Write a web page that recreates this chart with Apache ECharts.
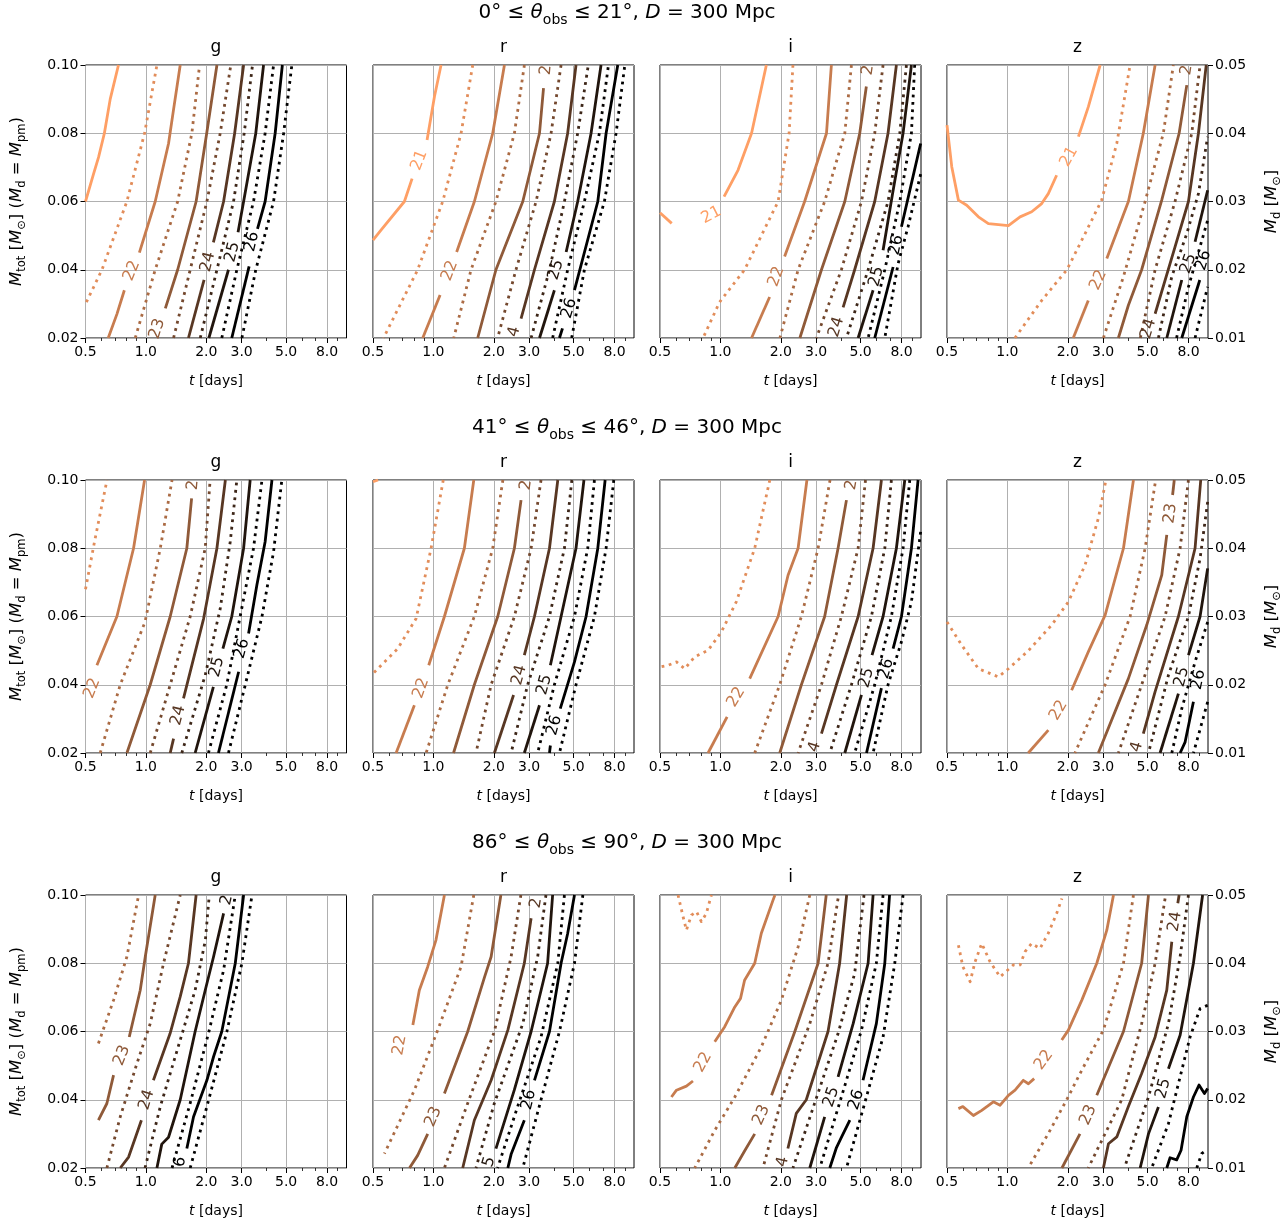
<!DOCTYPE html>
<html><head><meta charset="utf-8">
<script src="https://cdn.jsdelivr.net/npm/echarts@6/dist/echarts.min.js"></script>
<style>html,body{margin:0;padding:0;background:#fff}#c{width:1288px;height:1222px}</style>
</head><body><div id="c"></div>
<script>
// ---------------- data ----------------
const levels = [21, 21.5, 22, 22.5, 23, 23.5, 24, 24.5, 25, 25.5, 26, 26.5];
const bands = ['g', 'r', 'i', 'z'];
const thetaRanges = [[0, 21], [41, 46], [86, 90]];
const distanceMpc = 300;
const tTicks = [0.5, 1, 2, 3, 5, 8];
const tMinorTicks = [0.6, 0.7, 0.8, 0.9, 4, 6, 7, 9];
const mTotRange = [0.02, 0.10];
const mDRange = [0.01, 0.05];

// contour paths [t (days), M_tot] per level (index matches `levels`); null = absent / gap
const row1_g = [
 [[0.5,0.06],[0.548,0.068],[0.581,0.073],[0.621,0.08],[0.664,0.09],[0.73,0.1]],
 [[0.505,0.0305],[0.604,0.04],[0.804,0.06],[0.985,0.08],[1.135,0.1]],
 [[0.649,0.02],[0.717,0.027],[0.781,0.034],null,[0.928,0.045],[1.113,0.06],[1.297,0.077],[1.374,0.087],[1.483,0.1]],
 [[0.885,0.02],[1.113,0.04],[1.44,0.06],[1.695,0.08],[1.852,0.1]],
 [[1.25,0.0287],[1.44,0.04],[1.78,0.06],[2.01,0.08],[2.26,0.1]],
 [[1.374,0.02],[1.663,0.04],[2.014,0.06],[2.347,0.08],[2.65,0.1]],
 [[1.63,0.02],[1.95,0.037],null,[2.17,0.048],[2.44,0.06],[2.77,0.08],[3.07,0.1]],
 [[1.866,0.02],[2.26,0.04],[2.735,0.06],[3.09,0.08],[3.4,0.1]],
 [[2.06,0.02],[2.58,0.04],null,[2.88,0.051],[3.07,0.06],[3.53,0.08],[3.86,0.1]],
 [[2.39,0.02],[2.84,0.04],[3.44,0.06],[3.93,0.08],[4.33,0.1]],
 [[2.68,0.02],[3.27,0.041],null,[3.6,0.052],[3.93,0.06],[4.41,0.08],[4.79,0.1]],
 [[3.01,0.02],[3.53,0.04],[4.33,0.06],[4.86,0.08],[5.34,0.1]]
];
const row1_r = [
 [[1.092,0.1],[1.012,0.0907],[0.93,0.078],null,[0.783,0.0667],[0.717,0.06],[0.548,0.0516],[0.5,0.0487]],
 [[1.571,0.1],[1.374,0.08],[1.113,0.06],[0.835,0.04],[0.564,0.02]],
 [[2.26,0.1],[1.976,0.08],[1.601,0.06],[1.306,0.0452],null,[1.08,0.0326],[0.885,0.02]],
 [[2.842,0.1],[2.534,0.08],[2.05,0.06],[1.541,0.04],[1.263,0.02]],
 [[3.54,0.0932],[3.38,0.08],[2.79,0.06],[2.05,0.04],[1.663,0.02]],
 [[4.33,0.1],[3.86,0.08],[3.25,0.06],[2.58,0.04],[2.09,0.02]],
 [[2.735,0.0257],[3.19,0.04],[4.01,0.06],[4.67,0.08],[5.14,0.1]],
 [[3.07,0.02],[3.79,0.04],[4.5,0.06],[5.24,0.08],[5.92,0.1]],
 [[3.38,0.02],[4.01,0.034],null,[4.59,0.0452],[5.24,0.06],[6.11,0.08],[6.85,0.1]],
 [[3.93,0.02],[4.67,0.04],[5.66,0.06],[6.72,0.08],[7.46,0.1]],
 [[4.25,0.02],[4.4,0.0228],null,[5.05,0.034],[6.6,0.06],[7.26,0.08],[8.3,0.1]],
 [[4.89,0.02],[5.66,0.04],[7.12,0.06],[8.14,0.08],[9.0,0.1]]
];
const row1_i = [
 [[0.5,0.0567],[0.572,0.0536],null,[1.043,0.0614],[1.225,0.0692],[1.43,0.08],[1.695,0.1]],
 [[2.3,0.1],[2.2,0.08],[1.94,0.06],[1.32,0.04],[0.99,0.0305],[0.82,0.02]],
 [[3.575,0.1],[3.38,0.08],[2.63,0.06],[2.09,0.0439],null,[1.76,0.032],[1.43,0.02]],
 [[4.5,0.1],[4.17,0.08],[3.31,0.06],[2.44,0.04],[1.98,0.02]],
 [[5.34,0.0937],[4.95,0.08],[4.17,0.06],[3.19,0.04],[2.49,0.02]],
 [[6.47,0.1],[5.88,0.08],[5.05,0.06],[4.01,0.04],[3.01,0.02]],
 [[7.54,0.1],[6.85,0.08],[5.88,0.06],[4.67,0.04],[4.09,0.029]],
 [[8.46,0.1],[7.84,0.08],[6.85,0.06],[5.45,0.04],[4.25,0.02]],
 [[8.96,0.1],[8.14,0.08],[7.2,0.062],[6.47,0.0457],null,[5.77,0.034],[4.86,0.02]],
 [[9.3,0.1],[8.96,0.08],[7.84,0.06],[6.6,0.04],[5.45,0.02]],
 [[9.96,0.077],[8.96,0.0653],[7.99,0.0526],null,[7.26,0.0408],[5.88,0.02]],
 [[9.96,0.068],[8.62,0.0526],[7.69,0.0418],[6.6,0.02]]
];
const row1_z = [
 [[0.5,0.0824],[0.528,0.0702],[0.57,0.0604],[0.627,0.0589],[0.717,0.0555],[0.804,0.0535],[1.012,0.0529],[1.157,0.0555],[1.322,0.057],[1.483,0.0594],[1.6,0.0623],[1.76,0.0677],null,[2.26,0.079],[2.534,0.0878],[2.9,0.1]],
 [[1.09,0.02],[1.483,0.031],[1.98,0.04],[2.44,0.0506],[2.95,0.0604],[3.51,0.077],[4.09,0.1]],
 [[2.13,0.02],[2.53,0.031],null,[3.13,0.0433],[4.01,0.06],[4.76,0.08],[5.45,0.1]],
 [[3.01,0.02],[3.79,0.038],[4.86,0.06],[5.99,0.08],[6.72,0.1]],
 [[3.575,0.02],[4.01,0.0296],[4.67,0.04],[5.88,0.0604],[7.18,0.08],[7.84,0.0941]],
 [[4.6,0.02],[5.45,0.04],[6.85,0.06],[8.3,0.08],[9.13,0.1]],
 [[5.45,0.0271],[6.85,0.0467],[7.99,0.06],[8.96,0.08],[9.8,0.1]],
 [[5.66,0.02],[6.6,0.038],[7.84,0.0506],[8.96,0.0623],[9.96,0.079]],
 [[6.23,0.02],[7.4,0.037],null,[8.62,0.0482],[9.96,0.0633]],
 [[6.97,0.02],[7.99,0.035],[9.96,0.0545]],
 [[7.4,0.02],[9.1,0.037]],
 [[8.62,0.02],[9.96,0.035]]
];
const row2_g = [
 null,
 [[0.5,0.068],[0.555,0.082],[0.64,0.1]],
 [[0.985,0.1],[0.868,0.08],[0.717,0.06],[0.57,0.0457]],
 [[0.592,0.02],[0.745,0.04],[0.99,0.0584],[1.18,0.08],[1.35,0.1]],
 [[0.804,0.02],[1.051,0.04],[1.322,0.06],[1.6,0.08],[1.69,0.0946]],
 [[1.051,0.02],[1.322,0.04],[1.663,0.06],[1.976,0.08],[2.09,0.1]],
 [[1.322,0.02],[1.374,0.0242],null,[1.54,0.036],[1.94,0.0594],[2.26,0.08],[2.49,0.1]],
 [[1.51,0.02],[1.976,0.0428],[2.347,0.0623],[2.633,0.0819],[2.84,0.1]],
 [[1.76,0.02],[2.17,0.0394],null,[2.42,0.0506],[2.68,0.06],[3.07,0.08],[3.31,0.1]],
 [[2.05,0.02],[2.53,0.04],[2.95,0.06],[3.44,0.08],[3.79,0.1]],
 [[2.3,0.02],[2.9,0.0438],null,[3.25,0.055],[3.575,0.0692],[3.93,0.0819],[4.25,0.1]],
 [[2.58,0.02],[3.13,0.04],[3.79,0.06],[4.33,0.079],[4.76,0.1]]
];
const row2_r = [
 [[0.5,0.0995],[0.53,0.1]],
 [[1.12,0.1],[0.974,0.08],[0.82,0.0594],[0.664,0.0506],[0.5,0.0433]],
 [[1.59,0.1],[1.427,0.08],[1.135,0.06],[0.948,0.0457],null,[0.804,0.034],[0.652,0.02]],
 [[2.22,0.1],[1.976,0.08],[1.6,0.06],[1.18,0.04],[0.92,0.02]],
 [[2.735,0.0941],[2.534,0.08],[2.093,0.06],[1.6,0.04],[1.26,0.02]],
 [[3.44,0.1],[3.07,0.08],[2.534,0.06],[1.94,0.04],[1.63,0.02]],
 [[4.17,0.1],[3.79,0.08],[3.19,0.06],[2.84,0.0487],null,[2.51,0.037],[2.014,0.02]],
 [[4.9,0.1],[4.5,0.08],[3.79,0.06],[2.95,0.04],[2.44,0.02]],
 [[5.63,0.1],[5.14,0.08],[4.33,0.06],[3.83,0.0457],null,[3.38,0.034],[2.84,0.02]],
 [[6.35,0.1],[5.88,0.08],[5.05,0.06],[4.01,0.04],[3.31,0.02]],
 [[7.18,0.1],[6.6,0.08],[5.77,0.06],[5.05,0.0467],[4.29,0.033],null,[3.83,0.0222],[3.79,0.02]],
 [[7.93,0.1],[7.26,0.08],[6.35,0.06],[5.14,0.04],[4.25,0.02]]
];
const row2_i = [
 null,
 [[1.763,0.1],[1.483,0.08],[1.2,0.0643],[1.012,0.0555],[0.868,0.0501],[0.745,0.0482],[0.664,0.0447],[0.604,0.0467],[0.548,0.0457],[0.5,0.0452]],
 [[2.7,0.1],[2.44,0.08],[2.174,0.0721],[1.94,0.06],[1.4,0.0418],null,[1.08,0.0306],[0.868,0.02]],
 [[3.52,0.1],[3.07,0.08],[2.534,0.06],[1.976,0.04],[1.483,0.02]],
 [[4.25,0.0941],[3.86,0.08],[3.31,0.06],[2.534,0.04],[1.976,0.02]],
 [[5.29,0.1],[4.86,0.08],[4.01,0.06],[3.19,0.04],[2.44,0.02]],
 [[6.35,0.1],[5.77,0.08],[4.86,0.06],[3.79,0.04],[3.19,0.0257]],
 [[7.12,0.1],[6.6,0.08],[5.66,0.06],[4.5,0.04],[3.51,0.02]],
 [[8.3,0.1],[7.54,0.08],[6.47,0.06],[5.7,0.0487],null,[5.05,0.037],[4.17,0.02]],
 [[8.79,0.1],[8.14,0.08],[7.12,0.06],[5.88,0.04],[4.67,0.02]],
 [[9.67,0.1],[8.96,0.08],[7.99,0.06],[7.26,0.0506],null,[6.35,0.039],[5.35,0.02]],
 [[9.96,0.0848],[8.96,0.0643],[7.99,0.0526],[6.85,0.04],[5.77,0.02]]
];
const row2_z = [
 null,
 [[0.5,0.0584],[0.592,0.0516],[0.717,0.0447],[0.902,0.0423],[1.012,0.0447],[1.273,0.05],[1.663,0.0575],[2.014,0.0643],[2.44,0.0751],[2.84,0.0888],[3.1,0.1]],
 [[4.25,0.1],[3.79,0.08],[3.07,0.0604],[2.534,0.0497],[2.09,0.0384],null,[1.6,0.0267],[1.27,0.02]],
 [[5.45,0.099],[4.86,0.08],[4.09,0.06],[3.07,0.04],[2.17,0.02]],
 [[6.79,0.1],[6.66,0.0956],null,[6.23,0.0839],[5.88,0.0721],[4.95,0.0575],[4.01,0.0418],[2.84,0.02]],
 [[7.99,0.1],[7.26,0.08],[6.11,0.06],[4.67,0.04],[3.575,0.02]],
 [[9.2,0.1],[8.62,0.08],[7.12,0.06],[5.45,0.038],[4.76,0.0257]],
 [[9.96,0.0936],[9.13,0.077],[7.99,0.06],[6.35,0.0428],[5.05,0.02]],
 [[9.96,0.0741],[9.13,0.06],[7.99,0.0487],null,[7.12,0.0374],[5.77,0.02]],
 [[9.96,0.0584],[8.62,0.0467],[7.4,0.033],[6.6,0.02]],
 [[8.46,0.035],[7.69,0.0232],[7.26,0.02]],
 [[9.96,0.035],[8.96,0.0252],[8.46,0.02]]
];
const row3_g = [
 null, null, null,
 [[0.58,0.0565],[0.69,0.0692],[0.804,0.0819],[0.92,0.1]],
 [[0.58,0.034],[0.639,0.0389],[0.69,0.0472],null,[0.826,0.0584],[0.937,0.0721],[0.993,0.0819],[1.113,0.1]],
 [[0.639,0.02],[0.745,0.035],[0.902,0.0506],[1.051,0.0623],[1.225,0.08],[1.483,0.1]],
 [[0.745,0.02],[0.82,0.0232],[0.95,0.034],null,[1.09,0.0457],[1.32,0.0594],[1.483,0.0702],[1.63,0.08],[1.78,0.1]],
 [[0.99,0.02],[1.18,0.038],[1.483,0.0575],[1.76,0.0721],[1.98,0.0868],[2.07,0.1]],
 [[1.135,0.02],[1.2,0.027],[1.297,0.029],[1.483,0.04],[1.76,0.06],[1.976,0.0721],[2.174,0.0819],[2.44,0.0946]],
 [[1.35,0.02],[1.663,0.039],[2.05,0.0594],[2.44,0.078],[2.79,0.1]],
 [[1.6,0.0257],[1.728,0.035],[2.014,0.0457],[2.174,0.0526],[2.39,0.06],[2.79,0.08],[3.07,0.1]],
 [[1.663,0.02],[2.014,0.038],[2.534,0.06],[3.01,0.08],[3.38,0.1]]
];
const row3_r = [
 null, null,
 [[1.135,0.1],[1.03,0.0868],[0.937,0.079],[0.851,0.0721],[0.79,0.0619]],
 [[1.59,0.1],[1.374,0.079],[1.051,0.0604],[0.804,0.0428],[0.57,0.0242]],
 [[2.17,0.1],[1.94,0.0819],[1.8,0.076],[1.483,0.06],[1.135,0.0418],null,[0.937,0.03],[0.835,0.0237],[0.76,0.02]],
 [[2.73,0.1],[2.44,0.0819],[2.014,0.06],[1.483,0.039],[1.135,0.02]],
 [[3.07,0.0932],[2.84,0.08],[2.35,0.0604],[1.94,0.0457],[1.6,0.034],[1.4,0.02]],
 [[3.64,0.1],[3.31,0.0819],[2.79,0.0623],[2.014,0.039],[1.63,0.02]],
 [[3.93,0.1],[3.71,0.08],[3.07,0.06],[2.53,0.0428],[2.05,0.0257]],
 [[4.5,0.1],[4.17,0.08],[3.44,0.0584],[2.63,0.038],[2.09,0.02]],
 [[5.05,0.1],[4.67,0.0887],[4.33,0.08],[3.79,0.06],[3.19,0.0457],null,[2.84,0.034],[2.44,0.024],[2.35,0.02]],
 [[5.56,0.1],[5.05,0.08],[4.25,0.06],[3.44,0.04],[2.79,0.02]]
];
const row3_i = [
 null,
 [[0.615,0.1],[0.652,0.0936],[0.677,0.0897],[0.717,0.0941],[0.76,0.0951],[0.804,0.0922],[0.851,0.0946],[0.902,0.1]],
 [[0.57,0.0408],[0.604,0.0428],[0.677,0.044],[0.73,0.0455],null,[0.937,0.057],[1.051,0.0614],[1.18,0.0672],[1.26,0.0697],[1.32,0.075],[1.483,0.08],[1.6,0.0888],[1.83,0.0985],[1.87,0.1]],
 [[2.79,0.1],[2.44,0.0848],[2.014,0.0692],[1.6,0.0555],[1.18,0.0408],[0.937,0.031],[0.745,0.02]],
 [[3.37,0.1],[3.07,0.08],[2.35,0.06],[1.8,0.0413],null,[1.483,0.03],[1.32,0.025],[1.18,0.02]],
 [[3.86,0.099],[3.44,0.08],[2.79,0.0623],[2.014,0.04],[1.63,0.02]],
 [[4.26,0.1],[3.93,0.08],[3.44,0.06],[2.68,0.04],[2.39,0.036],[2.17,0.0257]],
 [[5.2,0.1],[4.67,0.077],[3.86,0.0594],[2.95,0.039],[2.3,0.02]],
 [[5.77,0.1],[5.45,0.08],[4.59,0.0623],[3.86,0.0467],null,[3.31,0.035],[2.79,0.02]],
 [[6.47,0.1],[5.99,0.08],[5.05,0.0604],[4.01,0.0408],[3.13,0.02]],
 [[6.97,0.1],[6.6,0.08],[5.99,0.0623],[5.14,0.0457],null,[4.42,0.034],[4.01,0.029],[3.79,0.026],[3.51,0.02]],
 [[8.14,0.1],[7.4,0.08],[6.47,0.0584],[5.24,0.039],[4.25,0.02]]
];
const row3_z = [
 null,
 [[0.57,0.0853],[0.6,0.079],[0.652,0.0746],[0.69,0.0804],[0.745,0.0858],[0.82,0.0804],[0.92,0.076],[1.07,0.0795],[1.157,0.0795],[1.225,0.0834],[1.32,0.0858],[1.454,0.0843],[1.6,0.0888],[1.76,0.0946],[1.87,0.099]],
 [[0.57,0.0374],[0.6,0.038],[0.677,0.0354],[0.745,0.0369],[0.851,0.0394],[0.92,0.0384],[1.012,0.0413],[1.092,0.0428],[1.2,0.0457],[1.273,0.0447],[1.36,0.0462],null,[1.866,0.0575],[2.014,0.0604],[2.35,0.0692],[2.79,0.08],[3.13,0.0897],[3.38,0.1]],
 [[4.25,0.1],[3.79,0.08],[3.01,0.0604],[2.35,0.0487],[1.976,0.04],[1.6,0.0301],[1.27,0.02]],
 [[5.05,0.1],[4.67,0.08],[3.79,0.06],[2.79,0.0413],null,[2.3,0.03],[1.87,0.02]],
 [[6.11,0.099],[5.45,0.08],[4.67,0.0623],[3.715,0.04],[2.53,0.02]],
 [[7.18,0.1],[7.07,0.0976],null,[6.6,0.0863],[6.23,0.0721],[5.45,0.0584],[4.67,0.0477],[4.01,0.038],[3.51,0.0291],[3.19,0.0271],[3.01,0.02]],
 [[7.99,0.1],[7.26,0.0819],[6.35,0.0623],[5.05,0.0408],[3.83,0.02]],
 [[9.4,0.1],[8.46,0.08],[7.26,0.0589],[6.35,0.0491],null,[5.66,0.0379],[5.05,0.03],[4.59,0.02]],
 [[9.96,0.0677],[9.13,0.0667],[8.14,0.0584],[7.12,0.0447],[6.35,0.033],[5.24,0.02]],
 [[6.23,0.02],[6.47,0.023],[6.98,0.0224],[7.34,0.0252],[7.84,0.035],[8.46,0.0408],[9.02,0.0443],[9.6,0.0418],[9.96,0.0433]],
 [[8.79,0.02],[9.3,0.0242],[9.8,0.0252]]
];

// inline contour labels: [level, t, M_tot, visible text]
const row1_g_labels = [[22,0.851,0.0397,'22'],[23,1.14,0.0227,'23'],[24,2.04,0.0423,'24'],[25,2.7,0.0452,'25'],[26,3.38,0.0482,'26']];
const row1_r_labels = [[21,0.851,0.0721,'21'],[22,1.207,0.0397,'22'],[23,3.64,0.0985,'2'],[24,2.534,0.0218,'4'],[25,4.09,0.04,'25'],[26,4.76,0.0287,'26']];
const row1_i_labels = [[21,0.902,0.056,'21'],[22,1.9,0.038,'22'],[23,5.45,0.0985,'2'],[24,3.79,0.0232,'24'],[25,5.99,0.038,'25'],[26,7.54,0.0472,'26']];
const row1_z_labels = [[21,2.03,0.0731,'21'],[22,2.84,0.037,'22'],[23,7.84,0.0985,'2'],[24,5.05,0.0227,'24'],[25,7.99,0.0418,'25'],[26,9.5,0.0428,'26']];
const row2_g_labels = [[22,0.54,0.039,'22'],[23,1.72,0.0985,'2'],[24,1.45,0.031,'24'],[25,2.26,0.0452,'25'],[26,3.01,0.0506,'26']];
const row2_r_labels = [[22,0.868,0.039,'22'],[23,2.9,0.0985,'2'],[24,2.68,0.0428,'24'],[25,3.575,0.04,'25'],[26,4.01,0.0281,'26']];
const row2_i_labels = [[22,1.2,0.0364,'22'],[23,4.5,0.0985,'2'],[24,2.95,0.0218,'4'],[25,5.35,0.042,'25'],[26,6.72,0.0447,'26']];
const row2_z_labels = [[22,1.8,0.0325,'22'],[23,6.5,0.0902,'23'],[24,4.42,0.0218,'4'],[25,7.4,0.0423,'25'],[26,8.96,0.0415,'26']];
const row3_g_labels = [[23,0.76,0.053,'23'],[24,1.01,0.04,'24'],[25,2.53,0.0985,'2'],[26,1.483,0.0218,'6']];
const row3_r_labels = [[22,0.68,0.056,'22'],[23,1.0,0.035,'23'],[24,3.25,0.0976,'2'],[25,1.9,0.0218,'5'],[26,2.99,0.04,'26']];
const row3_i_labels = [[22,0.82,0.051,'22'],[23,1.6,0.0355,'23'],[24,2.05,0.0218,'4'],[25,3.575,0.0408,'25'],[26,4.76,0.04,'26']];
const row3_z_labels = [[22,1.52,0.0516,'22'],[23,2.53,0.0355,'23'],[24,6.85,0.0922,'24'],[25,5.99,0.0433,'25']];

// ---------------- chart ----------------
const panels = [row1_g,row1_r,row1_i,row1_z,row2_g,row2_r,row2_i,row2_z,row3_g,row3_r,row3_i,row3_z];
const panelLabels = [row1_g_labels,row1_r_labels,row1_i_labels,row1_z_labels,row2_g_labels,row2_r_labels,row2_i_labels,row2_z_labels,row3_g_labels,row3_r_labels,row3_i_labels,row3_z_labels];

const FONT = 'DejaVu Sans';
const colLeft = [85.5, 373, 660, 947];
const rowTop = [65, 480, 895];
const PW = 261, PH = 273;

function copper(L) {
  const x = Math.max(0, Math.min(1, (25.6 - L) / 5.78));
  const r = Math.min(1, 1.25 * x), g = 0.7812 * x, b = 0.4975 * x;
  return 'rgb(' + Math.round(r*255) + ',' + Math.round(g*255) + ',' + Math.round(b*255) + ')';
}
function richSet(size, sub, lh) {
  return {
    n: {fontSize: size, fontFamily: FONT, color: '#000', lineHeight: lh},
    i: {fontSize: size, fontFamily: FONT, fontStyle: 'italic', color: '#000', lineHeight: lh},
    s: {fontSize: sub, fontFamily: FONT, color: '#000', lineHeight: sub, verticalAlign: 'bottom'}
  };
}
const richX = richSet(14, 10, 20);
const richY = richSet(16.5, 11.5, 23);
const richTitle = richSet(20, 14, 28);

function splitSegments(path) {
  const segs = []; let cur = [];
  path.forEach(p => { if (p === null) { if (cur.length) segs.push(cur); cur = []; } else cur.push(p); });
  if (cur.length) segs.push(cur);
  return segs;
}
function labelItem(l, rot) {
  return {value: [l[1], l[2]], label: {show: true, position: 'inside', formatter: l[3], color: copper(l[0]),
    fontSize: 16, fontFamily: FONT, rotate: rot, opacity: 1}};
}

const grid = [], xAxis = [], yAxis = [], series = [], graphic = [];
const axisIdx = [];
panels.forEach((paths, p) => {
  const r = Math.floor(p / 4), c = p % 4;
  grid.push({left: colLeft[c], top: rowTop[r], width: PW, height: PH, show: true,
    borderColor: '#000', borderWidth: 1, backgroundColor: 'rgba(0,0,0,0)'});
  const xi = xAxis.length;
  xAxis.push({type: 'log', logBase: 10, gridIndex: p, min: 0.5, max: 10, position: 'bottom',
    axisLine: {show: false, onZero: false},
    axisTick: {show: true, customValues: tTicks, length: 5, lineStyle: {color: '#000', width: 1}},
    axisLabel: {customValues: tTicks, formatter: v => Number(v).toFixed(1), fontSize: 14, fontFamily: FONT, color: '#000', margin: 7},
    splitLine: {show: true, lineStyle: {color: '#b0b0b0', width: 1}},
    name: '{i|t}{n| [days]}', nameLocation: 'middle', nameGap: 33,
    nameTextStyle: {rich: richX}});
  xAxis.push({type: 'log', logBase: 10, gridIndex: p, min: 0.5, max: 10, position: 'bottom',
    axisLine: {show: false, onZero: false},
    axisTick: {show: true, customValues: tMinorTicks, length: 3, lineStyle: {color: '#000', width: 0.8}},
    axisLabel: {show: false}, splitLine: {show: false}});
  const yi = yAxis.length;
  yAxis.push({type: 'value', gridIndex: p, min: mTotRange[0], max: mTotRange[1], interval: 0.02, position: 'left',
    axisLine: {show: false, onZero: false},
    axisTick: {show: c === 0, length: 5, lineStyle: {color: '#000', width: 1}},
    axisLabel: {show: c === 0, formatter: v => v.toFixed(2), fontSize: 14, fontFamily: FONT, color: '#000', margin: 7},
    splitLine: {show: true, lineStyle: {color: '#b0b0b0', width: 1}},
    name: c === 0 ? '{i|M}{s|tot}{n| [}{i|M}{s|⊙}{n|] (}{i|M}{s|d}{n| = }{i|M}{s|pm}{n|)}' : '',
    nameLocation: 'middle', nameRotate: 90, nameGap: 57, nameTextStyle: {rich: richY}});
  if (c === 3) {
    yAxis.push({type: 'value', gridIndex: p, min: mDRange[0], max: mDRange[1], interval: 0.01, position: 'right',
      axisLine: {show: false, onZero: false},
      axisTick: {show: true, length: 5, lineStyle: {color: '#000', width: 1}},
      axisLabel: {formatter: v => v.toFixed(2), fontSize: 14, fontFamily: FONT, color: '#000', margin: 7},
      splitLine: {show: false},
      name: '{i|M}{s|d}{n| [}{i|M}{s|⊙}{n|]}', nameLocation: 'middle', nameRotate: 90, nameGap: 52,
      nameTextStyle: {rich: richY}});
  }
  axisIdx.push([xi, yi]);
  paths.forEach((path, k) => {
    if (!path) return;
    const L = levels[k];
    const dotted = (L % 1) !== 0;
    splitSegments(path).forEach(seg => {
      series.push({type: 'line', xAxisIndex: xi, yAxisIndex: yi, data: seg, showSymbol: false, symbol: 'none',
        silent: true, clip: true, animation: false,
        lineStyle: {color: copper(L), width: 2.8, type: dotted ? [2.8, 4.6] : 'solid', cap: 'butt', join: 'round'}});
    });
  });
  series.push({id: 'lab' + p, type: 'scatter', xAxisIndex: xi, yAxisIndex: yi, symbol: 'circle', symbolSize: 1, silent: true,
    animation: false, z: 5, itemStyle: {color: 'rgba(255,255,255,0)'},
    data: panelLabels[p].map(l => labelItem(l, 75))});
  graphic.push({type: 'text', x: colLeft[c] + PW / 2, y: rowTop[r] - 17,
    style: {text: bands[c], fontSize: 17, fontFamily: FONT, fill: '#000', align: 'center', verticalAlign: 'middle'}});
});
thetaRanges.forEach((th, r) => {
  graphic.push({type: 'text', x: 627, y: rowTop[r] - 52,
    style: {text: '{n|' + th[0] + '° ≤ }{i|θ}{s|obs}{n| ≤ ' + th[1] + '°, }{i|D}{n| = ' + distanceMpc + ' Mpc}',
      rich: richTitle, align: 'center', verticalAlign: 'middle'}});
});

const chart = echarts.init(document.getElementById('c'), null, {renderer: 'canvas'});
chart.setOption({animation: false, backgroundColor: '#fff', grid, xAxis, yAxis, series, graphic});

// rotate inline labels along the local contour direction
const updates = [];
panels.forEach((paths, p) => {
  const [xi, yi] = axisIdx[p];
  const finder = {xAxisIndex: xi, yAxisIndex: yi};
  const data = panelLabels[p].map(l => {
    const path = paths[levels.indexOf(l[0])] || [];
    const lp = chart.convertToPixel(finder, [l[1], l[2]]);
    const pts = [];
    path.forEach((q, idx) => { if (q) { const px = chart.convertToPixel(finder, q); pts.push({idx, px, d: Math.hypot(px[0]-lp[0], px[1]-lp[1])}); } });
    let rot = 75;
    if (lp && pts.length >= 2) {
      pts.sort((a, b) => a.d - b.d);
      let a = pts[0], b = pts[1];
      if (a.idx > b.idx) { const t = a; a = b; b = t; }
      let ang = Math.atan2(-(b.px[1] - a.px[1]), b.px[0] - a.px[0]) * 180 / Math.PI;
      if (ang > 90) ang -= 180; if (ang < -90) ang += 180;
      rot = Math.round(ang);
    }
    return labelItem(l, rot);
  });
  updates.push({id: 'lab' + p, data});
});
chart.setOption({series: updates});
</script></body></html>
